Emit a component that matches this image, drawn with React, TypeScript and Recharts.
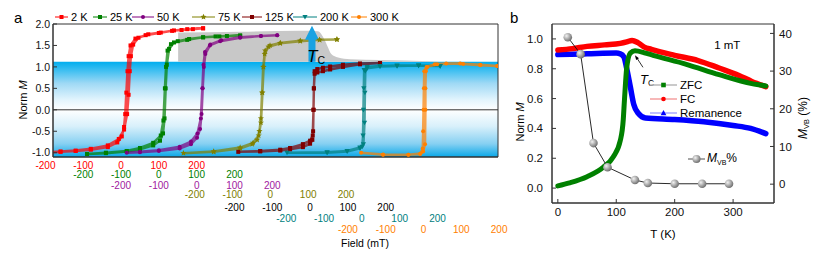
import React from 'react';
import {
  ComposedChart, Line, Area, XAxis, YAxis, ReferenceArea, ReferenceLine, ReferenceDot, Legend,
} from 'recharts';

const FONT = '"Liberation Sans", Arial, Helvetica, sans-serif';

// ---- panel a: hysteresis loops, [field (mT), norm M], down branch then back up
const loop2K = [
  [217, 1.9], [190, 1.88], [160, 1.86], [135, 1.84], [100, 1.79], [65, 1.74], [38, 1.66], [25, 1.5], [20, 1.25],
  [17, 0.9], [14, 0.4], [11, -0.1], [8, -0.4], [2, -0.62], [-10, -0.76], [-35, -0.87], [-80, -0.93], [-120, -0.96],
  [-160, -0.98], [-200, -1.0],
  [-160, -0.97], [-120, -0.95], [-80, -0.91], [-35, -0.83], [-6, -0.68], [8, -0.46], [16, -0.1], [20, 0.35],
  [23, 0.9], [26, 1.25], [32, 1.52], [46, 1.68], [72, 1.76], [105, 1.8], [140, 1.85], [175, 1.88], [217, 1.9],
];
const loop25K = [
  [215, 1.73], [180, 1.72], [150, 1.71], [117, 1.69], [75, 1.63], [40, 1.57], [27, 1.42], [21, 1.05], [18, 0.5],
  [15, -0.2], [11, -0.55], [3, -0.72], [-15, -0.83], [-50, -0.92], [-85, -0.97], [-140, -1.01], [-190, -1.03],
  [-140, -1.0], [-85, -0.96], [-50, -0.89], [-15, -0.77], [5, -0.6], [12, -0.25], [16, 0.5], [19, 1.0], [23, 1.38],
  [32, 1.53], [50, 1.6], [80, 1.65], [117, 1.69], [160, 1.71], [215, 1.73],
];
const loop50K = [
  [213, 1.74], [170, 1.72], [115, 1.68], [62, 1.6], [35, 1.5], [23, 1.3], [19, 1.0], [16, 0.5], [13, -0.1],
  [9, -0.45], [1, -0.65], [-15, -0.8], [-45, -0.9], [-100, -0.96], [-150, -0.99], [-185, -1.0],
  [-150, -0.98], [-100, -0.94], [-45, -0.86], [-15, -0.74], [2, -0.55], [11, -0.2], [15, 0.5], [18, 1.05],
  [22, 1.35], [36, 1.52], [65, 1.62], [115, 1.69], [170, 1.72], [213, 1.74],
];
const loop75K = [
  [176, 1.64], [130, 1.63], [79, 1.61], [26, 1.56], [-1, 1.5], [-14, 1.38], [-19, 1.0], [-22, 0.4], [-25, -0.2],
  [-29, -0.5], [-35, -0.7], [-48, -0.8], [-80, -0.9], [-150, -0.98], [-230, -1.01],
  [-150, -0.97], [-80, -0.88], [-46, -0.77], [-31, -0.6], [-25, -0.3], [-21, 0.4], [-18, 1.0], [-15, 1.3],
  [-5, 1.47], [26, 1.55], [79, 1.6], [130, 1.63], [176, 1.64],
];
const loop125K = [
  [185, 1.09], [132, 1.08], [87, 1.05], [53, 1.01], [34, 0.98], [19, 0.95], [12, 0.9], [10, 0.5], [9, 0],
  [8, -0.5], [6, -0.7], [0, -0.79], [-19, -0.87], [-53, -0.92], [-79, -0.95], [-132, -0.97], [-190, -0.98],
  [-132, -0.96], [-79, -0.93], [-53, -0.89], [-19, -0.8], [0, -0.72], [7, -0.6], [9, 0], [10, 0.5], [12, 0.84],
  [19, 0.87], [34, 0.9], [53, 0.94], [87, 1.0], [132, 1.06], [185, 1.09],
];
const loop200K = [
  [207, 1.02], [150, 1.03], [93, 1.03], [48, 1.02], [14, 1.0], [6, 0.93], [5, 0.5], [4, 0], [3, -0.6],
  [1, -0.86], [-5, -0.9], [-39, -0.97], [-92, -1.0], [-198, -1.0],
  [-92, -0.99], [-39, -0.96], [-5, -0.88], [4, -0.8], [7, -0.3], [8, 0.4], [9, 0.9], [14, 0.97], [48, 1.01],
  [93, 1.02], [150, 1.03], [207, 1.02],
];
const loop300K = [
  [195, 1.02], [150, 1.04], [105, 1.07], [60, 1.08], [30, 1.06], [8, 1.0], [2, 0.9], [1, 0.5], [0, 0],
  [-1, -0.5], [-2, -0.9], [-8, -1.02], [-40, -1.05], [-107, -1.05], [-165, -1.0],
  [-107, -1.04], [-40, -1.05], [-9, -1.03], [-1, -0.97], [4, -0.8], [5, 0], [5, 0.5], [6, 0.9], [10, 1.0],
  [36, 1.06], [97, 1.08], [150, 1.05], [195, 1.02],
];

const loops = [loop2K, loop25K, loop50K, loop75K, loop125K, loop200K, loop300K];
const loopNames = ['2 K', '25 K', '50 K', '75 K', '125 K', '200 K', '300 K'];
const loopColors = ['#ff0000', '#008000', '#800080', '#808000', '#800000', '#008080', '#ff8000'];
const loopMarkers = ['square', 'square', 'circle', 'star', 'square', 'triDown', 'circle'];
// every loop has its own field axis, shifted along the shared one (2 K frame)
const fieldOffsets = [0, 100, 200, 395, 500, 637, 800];
const fieldTicks = [-200, -100, 0, 100, 200];
const tickColors = ['#ff0000', '#008000', '#a020a0', '#808000', '#000000', '#008080', '#ff8000'];

// grey region above the blue band (2 K field frame)
const shadeField = [151, 315, 473, 521, 534, 545, 556, 574, 606, 685, 817, 844];
const shadeTop = [1.8, 1.82, 1.84, 1.83, 1.7, 1.5, 1.3, 1.22, 1.18, 1.16, 1.13, 1.12];

// ---- panel b
const zfcT = [0, 20, 50, 78, 95, 107, 112, 114, 118, 124, 132, 150, 163, 220, 276, 332, 356];
const zfcM = [0.015, 0.035, 0.076, 0.14, 0.21, 0.32, 0.46, 0.59, 0.81, 0.905, 0.92, 0.905, 0.89, 0.83, 0.76, 0.7, 0.685];
const fcT = [0, 25, 50, 80, 107, 118, 127, 137, 148, 160, 200, 240, 276, 310, 332, 356];
const fcM = [0.925, 0.935, 0.95, 0.96, 0.97, 0.98, 0.99, 0.975, 0.945, 0.93, 0.89, 0.855, 0.805, 0.755, 0.715, 0.68];
const remT = [0, 50, 100, 107, 113, 118, 124, 130, 138, 150, 200, 250, 300, 330, 356];
const remM = [0.895, 0.9, 0.905, 0.9, 0.88, 0.8, 0.68, 0.56, 0.5, 0.47, 0.46, 0.445, 0.42, 0.4, 0.365];
const vbT = [17, 39, 61, 85, 132, 154, 200, 247, 293];
const vbPct = [39.0, 34.5, 10.9, 4.5, 1.1, 0.3, 0.1, 0.1, 0.1];

const H = 256;
const A_W = 515;
const B_LEFT = 505;
const B_W = 312;
const rowY = [165, 174.5, 185, 194.5, 207, 218, 229];
const legendX = [[55, 68], [93, 107], [132, 154], [192, 215], [242, 262], [293, 317], [351, 367]];

const loopRows = loops.map((pts, i) => pts.map(([f, m]) => ({ u: f + fieldOffsets[i], m })));
const shadeRows = shadeField.map((u, i) => ({ u, top: shadeTop[i] }));
const tickLabels = loops.flatMap((_, r) => fieldTicks.map((v) => ({ pos: fieldOffsets[r] + v, text: String(v), row: r })));
const tickPositions = Array.from(new Set(tickLabels.map((t) => t.pos))).sort((a, b) => a - b);

const zfcRows = zfcT.map((t, i) => ({ t, v: zfcM[i] }));
const fcRows = fcT.map((t, i) => ({ t, v: fcM[i] }));
const remRows = remT.map((t, i) => ({ t, v: remM[i] }));
const vbRows = vbT.map((t, i) => ({ t, v: vbPct[i] }));

const starPts = (x: number, y: number, R: number) =>
  Array.from({ length: 10 }, (_, k) => {
    const r = k % 2 ? R * 0.45 : R;
    const a = -Math.PI / 2 + (k * Math.PI) / 5;
    return `${x + r * Math.cos(a)},${y + r * Math.sin(a)}`;
  }).join(' ');

const Marker = ({ kind, x, y, color, s }: any) => {
  if (kind === 'square') return <rect x={x - s} y={y - s} width={2 * s} height={2 * s} fill={color} />;
  if (kind === 'triDown') return <polygon points={`${x - s - 0.6},${y - s} ${x + s + 0.6},${y - s} ${x},${y + s + 0.6}`} fill={color} />;
  if (kind === 'triUp') return <polygon points={`${x - s - 0.6},${y + s} ${x + s + 0.6},${y + s} ${x},${y - s - 0.6}`} fill={color} />;
  if (kind === 'star') return <polygon points={starPts(x, y, s * 1.6)} fill={color} />;
  return <circle cx={x} cy={y} r={s} fill={color} />;
};

const FieldTick = (props: any) => {
  const { x, payload } = props;
  const items = tickLabels.filter((t) => Math.abs(t.pos - payload.value) < 0.01);
  return (
    <g>
      {items.map((t) => (
        <text key={t.row} x={x} y={rowY[t.row]} textAnchor="middle" dominantBaseline="central"
          fontSize={10} fontFamily={FONT} fill={tickColors[t.row]}>{t.text}</text>
      ))}
    </g>
  );
};

const TcArrow = (props: any) => {
  const { cx, cy } = props;
  return (
    <g>
      <polygon
        points={`${cx - 3.5},${cy} ${cx + 3.5},${cy} ${cx + 3.5},${cy - 22} ${cx + 7},${cy - 22} ${cx},${cy - 36} ${cx - 7},${cy - 22} ${cx - 3.5},${cy - 22}`}
        fill="#18a2e2" />
      <text x={cx - 5} y={cy} fontFamily={FONT} fill="#000">
        <tspan fontSize={17} fontStyle="italic">T</tspan>
        <tspan fontSize={10.5} dy={2}>C</tspan>
      </text>
    </g>
  );
};

const TcNote = (props: any) => {
  const { cx, cy } = props;
  return (
    <g>
      <line x1={cx + 1.5} y1={cy + 2} x2={cx + 8} y2={cy + 12} stroke="#000" strokeWidth={0.8} />
      <polygon points={`${cx},${cy} ${cx + 4},${cy + 3} ${cx + 1.2},${cy + 4.6}`} fill="#000" />
      <text x={cx + 5} y={cy + 29} fontFamily={FONT} fill="#000">
        <tspan fontSize={13} fontStyle="italic">T</tspan>
        <tspan fontSize={8.5} dy={2}>C</tspan>
      </text>
    </g>
  );
};

const FieldNote = (props: any) => (
  <text x={props.cx} y={props.cy} textAnchor="middle" dominantBaseline="central" fontSize={11.5} fontFamily={FONT}>1 mT</text>
);

const LegendA = () => (
  <div style={{ position: 'relative', height: 0, fontFamily: FONT }}>
    {loopNames.map((name, i) => {
      const [x0, x1] = legendX[i];
      const w = x1 - x0;
      return (
        <div key={name} style={{ position: 'absolute', left: x0, top: 10, height: 14, display: 'flex', alignItems: 'center', whiteSpace: 'nowrap' }}>
          <svg width={w} height={14} style={{ display: 'block' }}>
            <line x1={0} x2={w} y1={7} y2={7} stroke={loopColors[i]} strokeWidth={1} />
            <Marker kind={loopMarkers[i]} x={w / 2} y={7} s={2} color={loopColors[i]} />
          </svg>
          <span style={{ fontSize: 11, marginLeft: 3, color: '#000' }}>{name}</span>
        </div>
      );
    })}
  </div>
);

const legendB = [
  { name: 'ZFC', line: '#b8b8b8', color: '#008000', kind: 'square', y: 85 },
  { name: 'FC', line: '#f5a0a0', color: '#ff0000', kind: 'circle', y: 99 },
  { name: 'Remanence', line: '#a8a8ff', color: '#0000ff', kind: 'triUp', y: 113 },
];

const LegendB = () => (
  <div style={{ position: 'relative', height: 0, fontFamily: FONT }}>
    {legendB.map((it) => (
      <div key={it.name} style={{ position: 'absolute', left: 145, top: it.y - 7, height: 14, display: 'flex', alignItems: 'center', whiteSpace: 'nowrap' }}>
        <svg width={27} height={14} style={{ display: 'block' }}>
          <line x1={0} x2={27} y1={7} y2={7} stroke={it.line} strokeWidth={1.5} />
          <Marker kind={it.kind} x={13.5} y={7} s={2.3} color={it.color} />
        </svg>
        <span style={{ fontSize: 11.5, marginLeft: 3 }}>{it.name}</span>
      </div>
    ))}
    <div style={{ position: 'absolute', left: 183, top: 151, height: 16, display: 'flex', alignItems: 'center', whiteSpace: 'nowrap' }}>
      <svg width={17} height={16} style={{ display: 'block' }}>
        <line x1={0} x2={17} y1={8} y2={8} stroke="#222" strokeWidth={0.8} />
        <circle cx={8.5} cy={8} r={4} fill="url(#ballLegend)" />
        <defs>
          <radialGradient id="ballLegend" cx="35%" cy="35%" r="70%">
            <stop offset="0" stopColor="#f2f2f2" />
            <stop offset="1" stopColor="#6a6a6a" />
          </radialGradient>
        </defs>
      </svg>
      <span style={{ fontSize: 12, marginLeft: 2 }}>
        <i>M</i><sub style={{ fontSize: 7 }}>VB</sub>%
      </span>
    </div>
  </div>
);

const NormLabel = (x: number, y: number, size: number) => () => (
  <text transform={`translate(${x},${y}) rotate(-90)`} textAnchor="middle" dominantBaseline="central" fontSize={size} fontFamily={FONT} fill="#000">
    Norm <tspan fontStyle="italic">M</tspan>
  </text>
);

const VbLabel = () => (
  <text transform={`translate(298,118) rotate(-90)`} textAnchor="middle" dominantBaseline="central" fontSize={12} fontFamily={FONT} fill="#000">
    <tspan fontStyle="italic">M</tspan>
    <tspan fontSize={7.5} dy={3}>VB</tspan>
    <tspan dy={-3}> (%)</tspan>
  </text>
);

const BallDot = (p: any) => <circle key={`b${p.index}`} cx={p.cx} cy={p.cy} r={4.3} fill="url(#ball)" />;

export default function App() {
  return (
    <div style={{ position: 'absolute', left: 0, top: 0, width: 817, height: H, background: '#fff', overflow: 'hidden', fontFamily: FONT }}>
      <div style={{ position: 'absolute', left: 14, top: 9, fontSize: 15 }}>a</div>
      <div style={{ position: 'absolute', left: 510, top: 9, fontSize: 15 }}>b</div>

      <div style={{ position: 'absolute', left: 0, top: 0 }}>
        <ComposedChart width={A_W} height={H} margin={{ top: 24, right: 17, bottom: 0, left: 23 }}>
          <defs>
            <linearGradient id="bandTop" x1="0" y1="0" x2="0" y2="1">
              <stop offset="0" stopColor="#00aeef" />
              <stop offset="0.12" stopColor="#28b9f0" />
              <stop offset="0.45" stopColor="#9fd9f5" />
              <stop offset="0.8" stopColor="#e4f5fd" />
              <stop offset="1" stopColor="#ffffff" />
            </linearGradient>
            <linearGradient id="bandBot" x1="0" y1="0" x2="0" y2="1">
              <stop offset="0" stopColor="#ffffff" />
              <stop offset="0.35" stopColor="#d8f0fb" />
              <stop offset="0.72" stopColor="#86d0f2" />
              <stop offset="1" stopColor="#0aa8e8" />
            </linearGradient>
          </defs>
          <XAxis type="number" dataKey="u" domain={[-180, 997]} allowDataOverflow ticks={tickPositions} interval={0}
            tick={<FieldTick />} tickLine={false} height={99} axisLine={{ stroke: '#333' }}
            label={{ content: () => <text x={365} y={243} textAnchor="middle" dominantBaseline="central" fontSize={10.5} fontFamily={FONT}>Field (mT)</text> }} />
          <YAxis type="number" domain={[-1.1, 2]} allowDataOverflow ticks={[-1, -0.5, 0, 0.5, 1, 1.5, 2]}
            tickFormatter={(v: number) => v.toFixed(1)} width={30} tickSize={-4} tickMargin={7}
            tick={{ fontSize: 10.5, fill: '#111', fontFamily: FONT }} axisLine={{ stroke: '#333' }} tickLine={{ stroke: '#333' }}
            label={{ content: NormLabel(23, 100, 11) }} />
          <ReferenceArea y1={0} y2={1.12} fill="url(#bandTop)" fillOpacity={1} stroke="none" />
          <ReferenceArea y1={-1.1} y2={0} fill="url(#bandBot)" fillOpacity={1} stroke="none" />
          <Area data={shadeRows} dataKey="top" baseValue={1.12} type="monotone" fill="#c8c8c8" fillOpacity={1}
            stroke="none" dot={false} activeDot={false} isAnimationActive={false} />
          <ReferenceLine y={0} stroke="#333" strokeWidth={1} />
          {loopRows.map((rows, i) => (
            <Line key={loopNames[i]} data={rows} dataKey="m" name={loopNames[i]} type="linear"
              stroke={loopColors[i]} strokeOpacity={0.7} strokeWidth={2.5} activeDot={false} isAnimationActive={false}
              dot={(p: any) => <Marker key={`${i}-${p.index}`} kind={loopMarkers[i]} x={p.cx} y={p.cy} s={2} color={loopColors[i]} />} />
          ))}
          <ReferenceDot x={505} y={1.12} r={0} shape={TcArrow} />
          <ReferenceArea x1={-180} x2={997} y1={-1.1} y2={2} fill="none" stroke="#333" strokeWidth={1} />
          <Legend content={LegendA} wrapperStyle={{ top: 0, left: 0, width: A_W, height: 0 }} />
        </ComposedChart>
      </div>

      <div style={{ position: 'absolute', left: B_LEFT, top: 0 }}>
        <ComposedChart width={B_W} height={H} margin={{ top: 24, right: 13, bottom: 17, left: 15 }}>
          <defs>
            <radialGradient id="ball" cx="35%" cy="35%" r="70%">
              <stop offset="0" stopColor="#f2f2f2" />
              <stop offset="1" stopColor="#6a6a6a" />
            </radialGradient>
          </defs>
          <XAxis type="number" dataKey="t" domain={[-10, 370]} allowDataOverflow ticks={[0, 100, 200, 300]} interval={0}
            tickSize={-4} tickMargin={9} height={36} tick={{ fontSize: 11.5, fill: '#111', fontFamily: FONT }}
            axisLine={{ stroke: '#333' }} tickLine={{ stroke: '#333' }}
            label={{ value: 'T (K)', position: 'insideBottom', offset: 1, fontSize: 11.5, fill: '#000', fontFamily: FONT }} />
          <YAxis yAxisId="m" type="number" domain={[-0.1, 1.1]} allowDataOverflow ticks={[0, 0.2, 0.4, 0.6, 0.8, 1]}
            tickFormatter={(v: number) => v.toFixed(1)} width={32} tickSize={-4} tickMargin={13}
            tick={{ fontSize: 11.5, fill: '#111', fontFamily: FONT }} axisLine={{ stroke: '#333' }} tickLine={{ stroke: '#333' }}
            label={{ content: NormLabel(15, 122, 11) }} />
          <YAxis yAxisId="vb" orientation="right" type="number" domain={[-5, 42.5]} allowDataOverflow ticks={[0, 10, 20, 30, 40]}
            width={30} tickSize={-4} tickMargin={9} tick={{ fontSize: 11.5, fill: '#111', fontFamily: FONT }}
            axisLine={{ stroke: '#333' }} tickLine={{ stroke: '#333' }} label={{ content: VbLabel }} />
          <Line yAxisId="m" data={remRows} dataKey="v" name="Remanence" type="monotone" stroke="#0000ff" strokeWidth={5.5}
            strokeLinecap="round" dot={false} activeDot={false} isAnimationActive={false} />
          <Line yAxisId="m" data={fcRows} dataKey="v" name="FC" type="monotone" stroke="#ff0000" strokeWidth={5.5}
            strokeLinecap="round" dot={false} activeDot={false} isAnimationActive={false} />
          <Line yAxisId="m" data={zfcRows} dataKey="v" name="ZFC" type="monotone" stroke="#008000" strokeWidth={5}
            strokeLinecap="round" dot={false} activeDot={false} isAnimationActive={false} />
          <Line yAxisId="vb" data={vbRows} dataKey="v" name="M_VB%" type="linear" stroke="#111" strokeWidth={0.9}
            dot={BallDot} activeDot={false} isAnimationActive={false} />
          <ReferenceDot yAxisId="m" x={132} y={0.89} r={0} shape={TcNote} />
          <ReferenceDot yAxisId="m" x={290} y={0.96} r={0} shape={FieldNote} />
          <ReferenceArea yAxisId="m" x1={-10} x2={370} y1={-0.1} y2={1.1} fill="none" stroke="#333" strokeWidth={1} />
          <Legend content={LegendB} wrapperStyle={{ top: 0, left: 0, width: B_W, height: 0 }} />
        </ComposedChart>
      </div>
    </div>
  );
}
